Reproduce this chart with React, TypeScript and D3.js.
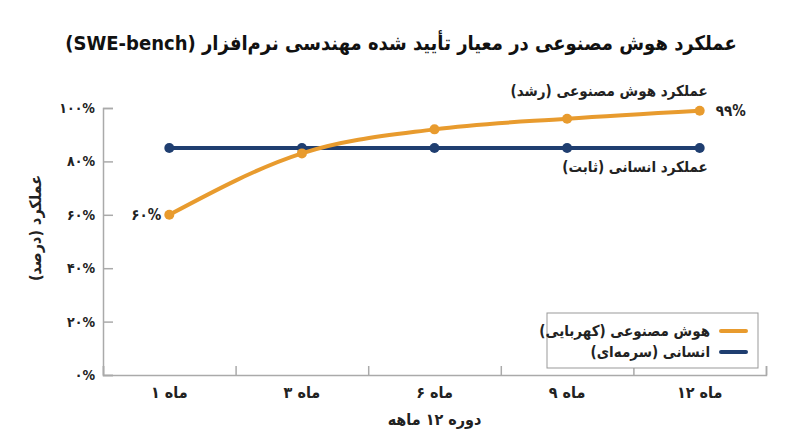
import { useRef, useEffect } from 'react';
import * as d3 from 'd3';

const months = ['ماه ۱', 'ماه ۳', 'ماه ۶', 'ماه ۹', 'ماه ۱۲'];
const aiValues = [60, 83, 92, 96, 99];
const humanValues = [85, 85, 85, 85, 85];
const yTicks = [0, 20, 40, 60, 80, 100];

const AMBER = '#E89B2E';
const NAVY = '#1F3E70';
const FONT = "'DejaVu Sans Condensed', 'DejaVu Sans', sans-serif";

const toFa = (v: number | string) => String(v).replace(/\d/g, (c) => '۰۱۲۳۴۵۶۷۸۹'[+c]);

export default function App() {
  const svgRef = useRef<SVGSVGElement>(null);

  useEffect(() => {
    document.body.style.margin = '0';
    if (!svgRef.current) return;
    const svg = d3.select(svgRef.current);
    svg.selectAll('*').remove();

    const left = 103, right = 766, top = 108, bottom = 375;

    const x = d3.scaleBand<string>().domain(months).range([left, right]);
    const y = d3.scaleLinear().domain([0, 100]).range([bottom, top]);
    const cx = (m: string) => (x(m) ?? 0) + x.bandwidth() / 2;

    // title
    svg.append('text')
      .attr('x', 401).attr('y', 50)
      .attr('text-anchor', 'middle').attr('direction', 'rtl')
      .attr('font-size', 20).attr('font-weight', 'bold').attr('fill', '#111')
      .text('عملکرد هوش مصنوعی در معیار تأیید شده مهندسی نرم‌افزار (SWE-bench)');

    // y axis
    const yAxis = svg.append('g').attr('transform', `translate(${left},0)`)
      .call(d3.axisRight(y).tickValues(yTicks).tickSize(10).tickFormat(() => ''));
    yAxis.selectAll('line, path').attr('stroke', '#aaa').attr('stroke-width', 1.5);

    svg.append('g').selectAll('text').data(yTicks).join('text')
      .attr('x', left - 8).attr('y', (d) => y(d)).attr('dy', '0.35em')
      .attr('text-anchor', 'end')
      .attr('font-size', 14).attr('font-weight', 'bold').attr('fill', '#222')
      .text((d) => `${toFa(d)}%`);

    // x axis
    const xAxis = svg.append('g').attr('transform', `translate(0,${bottom})`)
      .call(d3.axisTop(d3.scaleLinear().domain([0, 5]).range([left, right])).ticks(5).tickSize(9).tickFormat(() => ''));
    xAxis.selectAll('line, path').attr('stroke', '#aaa').attr('stroke-width', 1.5);

    svg.append('g').selectAll('text').data(months).join('text')
      .attr('x', (d) => cx(d)).attr('y', 398)
      .attr('text-anchor', 'middle').attr('direction', 'rtl')
      .attr('font-size', 16).attr('font-weight', 'bold').attr('fill', '#222')
      .text((d) => d);

    svg.append('text')
      .attr('x', (left + right) / 2).attr('y', 425)
      .attr('text-anchor', 'middle').attr('direction', 'rtl')
      .attr('font-size', 16).attr('font-weight', 'bold').attr('fill', '#222')
      .text('دوره ۱۲ ماهه');

    svg.append('text')
      .attr('transform', `translate(41,228) rotate(-90)`)
      .attr('text-anchor', 'middle').attr('direction', 'rtl')
      .attr('font-size', 16).attr('font-weight', 'bold').attr('fill', '#222')
      .text('عملکرد (درصد)');

    // lines
    const line = d3.line<number>()
      .x((_, i) => cx(months[i]))
      .y((d) => y(d))
      .curve(d3.curveMonotoneX);

    const series = [
      { values: humanValues, color: NAVY },
      { values: aiValues, color: AMBER },
    ];
    series.forEach((s) => {
      svg.append('path').datum(s.values)
        .attr('d', line).attr('fill', 'none')
        .attr('stroke', s.color).attr('stroke-width', 4).attr('stroke-linecap', 'round');
      svg.append('g').selectAll('circle').data(s.values).join('circle')
        .attr('cx', (_, i) => cx(months[i])).attr('cy', (d) => y(d))
        .attr('r', 5).attr('fill', s.color);
    });

    // annotations
    const last = months.length - 1;
    const ann = svg.append('g').attr('font-weight', 'bold').attr('fill', '#222').attr('font-size', 15);
    ann.append('text')
      .attr('x', cx(months[last]) + 8).attr('y', y(aiValues[last] + 7.4)).attr('dy', '0.35em')
      .attr('text-anchor', 'start').attr('direction', 'rtl')
      .text('عملکرد هوش مصنوعی (رشد)');
    ann.append('text')
      .attr('x', cx(months[last]) + 16).attr('y', y(aiValues[last])).attr('dy', '0.35em')
      .attr('text-anchor', 'start')
      .text(`${toFa(aiValues[last])}%`);
    ann.append('text')
      .attr('x', cx(months[0]) - 8).attr('y', y(aiValues[0])).attr('dy', '0.35em')
      .attr('text-anchor', 'end')
      .text(`${toFa(aiValues[0])}%`);
    ann.append('text')
      .attr('x', cx(months[last]) + 8).attr('y', y(humanValues[last] - 7)).attr('dy', '0.35em')
      .attr('text-anchor', 'start').attr('direction', 'rtl')
      .text('عملکرد انسانی (ثابت)');

    // legend
    const legend = svg.append('g');
    legend.append('rect')
      .attr('x', 547).attr('y', 313).attr('width', 211).attr('height', 55)
      .attr('fill', '#fff').attr('stroke', '#999').attr('stroke-width', 1);
    const items = [
      { label: 'هوش مصنوعی (کهربایی)', color: AMBER },
      { label: 'انسانی (سرمه‌ای)', color: NAVY },
    ];
    items.forEach((it, i) => {
      const ly = 331 + i * 21;
      legend.append('line')
        .attr('x1', 721).attr('x2', 746).attr('y1', ly).attr('y2', ly)
        .attr('stroke', it.color).attr('stroke-width', 4).attr('stroke-linecap', 'round');
      legend.append('text')
        .attr('x', 710).attr('y', ly).attr('dy', '0.35em')
        .attr('text-anchor', 'start').attr('direction', 'rtl')
        .attr('font-size', 15).attr('font-weight', 'bold').attr('fill', '#222')
        .text(it.label);
    });
  }, []);

  return (
    <svg ref={svgRef} width={800} height={447} style={{ display: 'block', background: '#fff', fontFamily: FONT }} />
  );
}
